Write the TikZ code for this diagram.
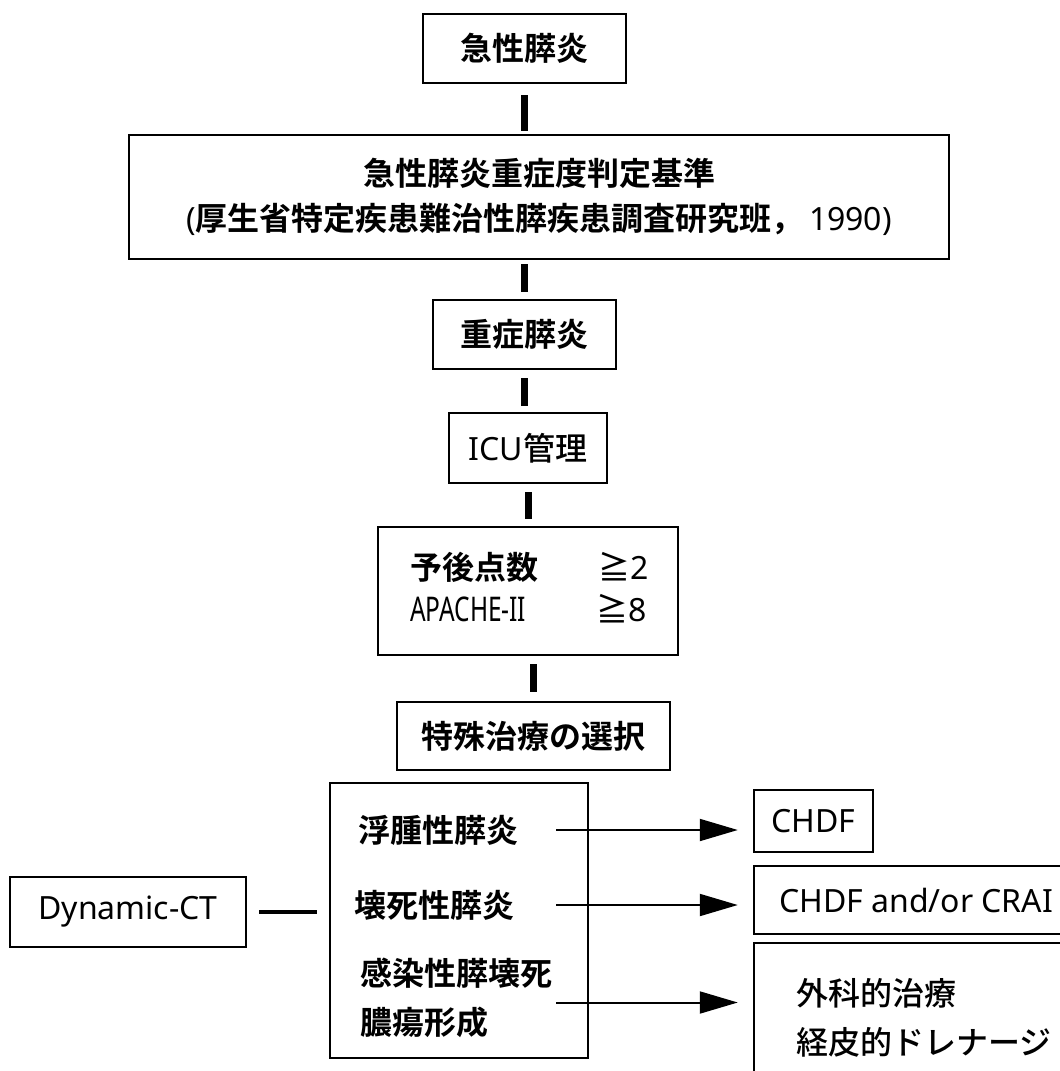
\documentclass[tikz,border=0pt]{standalone}
\usepackage{fontspec}
\usepackage{graphicx}
\setmainfont{Noto Sans}
\newfontfamily\jpfont{Noto Sans CJK JP}[UprightFont={* Medium},BoldFont={* Bold}]
\newcommand{\jtext}[1]{{\jpfont\bfseries #1}}
\newcommand{\jmed}[1]{{\jpfont #1}}
\usetikzlibrary{arrows.meta}
\begin{document}
\begin{tikzpicture}[x=1pt,y=-1pt,
  box/.style={draw,line width=2.5pt,inner sep=0pt,font=\fontsize{32pt}{40pt}\selectfont},
  txt/.style={inner sep=0pt,font=\fontsize{32pt}{49pt}\selectfont},
  vconn/.style={line width=7pt},
  hconn/.style={line width=4pt},
  arr/.style={line width=2pt,-{Triangle[length=38pt,width=22pt]}}]
\useasboundingbox (0,0) rectangle (1060,1071);
\clip (0,0) rectangle (1060,1071);
% main column
\node[box,minimum width=203pt,minimum height=69pt] (b1) at (524.5,48.5) {\jtext{急性膵炎}};
\node[box,minimum width=820pt,minimum height=124pt,align=center,font=\fontsize{32pt}{45pt}\selectfont] (b2) at (539,197)
  {\jtext{急性膵炎重症度判定基準}\\(\jtext{厚生省特定疾患難治性膵疾患調査研究班，}\,1990)};
\node[box,minimum width=183pt,minimum height=69pt] (b3) at (524.5,334.5) {\jtext{重症膵炎}};
\node[box,minimum width=158pt,minimum height=70pt] (b4) at (528,448) {ICU\jmed{管理}};
\node[box,minimum width=300pt,minimum height=128pt] (b5) at (528,591) {};
\node[txt,anchor=west] (t5a) at (410,567) {\jtext{予後点数}};
\node[txt,anchor=west] (t5b) at (598,567) {{\jpfont ≧}2};
\node[txt,anchor=west,font=\fontsize{34pt}{49pt}\selectfont] (t5c) at (410,609) {\scalebox{0.72}[1]{APACHE-II}};
\node[txt,anchor=west] (t5d) at (596,609) {{\jpfont ≧}8};
\node[box,minimum width=273pt,minimum height=68pt] (b6) at (533.5,736) {\jtext{特殊治療の選択}};
% lower part
\node[box,minimum width=258pt,minimum height=275pt] (big) at (459,920.5) {};
\node[txt,anchor=west] (t7) at (358,830) {\jtext{浮腫性膵炎}};
\node[txt,anchor=west] (t8) at (354,905) {\jtext{壊死性膵炎}};
\node[txt,anchor=west,align=left] (t9) at (360,997.5) {\jtext{感染性膵壊死}\\\jtext{膿瘍形成}};
\node[box,minimum width=236pt,minimum height=70pt] (dyn) at (128,912) {Dynamic-CT};
\node[box,minimum width=119pt,minimum height=62pt] (chdf) at (813.5,821) {CHDF};
\node[box,minimum width=360pt,minimum height=68pt] (crai) at (934,900) {};
\node[txt,anchor=west] (tcrai) at (779,900) {CHDF and/or CRAI};
\node[box,minimum width=360pt,minimum height=167pt] (surg) at (934,1026.5) {};
\node[txt,anchor=west,align=left] (tsurg) at (796,1017.5) {\jmed{外科的治療}\\\jmed{経皮的ドレナージ}};
% connectors
\draw[vconn,shorten <=11pt,shorten >=3pt] (b1.south) -- (b1.south |- b2.north);
\draw[vconn,shorten <=4pt,shorten >=7pt] (b3.north |- b2.south) -- (b3.north);
\draw[vconn,shorten <=8pt,shorten >=6pt] (b3.south) -- (b3.south |- b4.north);
\draw[vconn,shorten <=8pt,shorten >=7pt] (b4.south) -- (b4.south |- b5.north);
\draw[vconn,shorten <=8pt,shorten >=9pt] (b6.north |- b5.south) -- (b6.north);
\draw[hconn,shorten <=12pt,shorten >=12pt] (dyn.east) -- (big.west |- dyn.east);
\coordinate (ax) at (556,0);
\draw[arr,shorten >=15pt] (ax |- t7) -- (chdf.west |- t7);
\draw[arr,shorten >=15pt] (ax |- t8) -- (crai.west |- t8);
\draw[arr,shorten >=15pt] ([yshift=-5pt]ax |- t9) -- ([yshift=-5pt]surg.west |- t9);
\end{tikzpicture}
\end{document}
